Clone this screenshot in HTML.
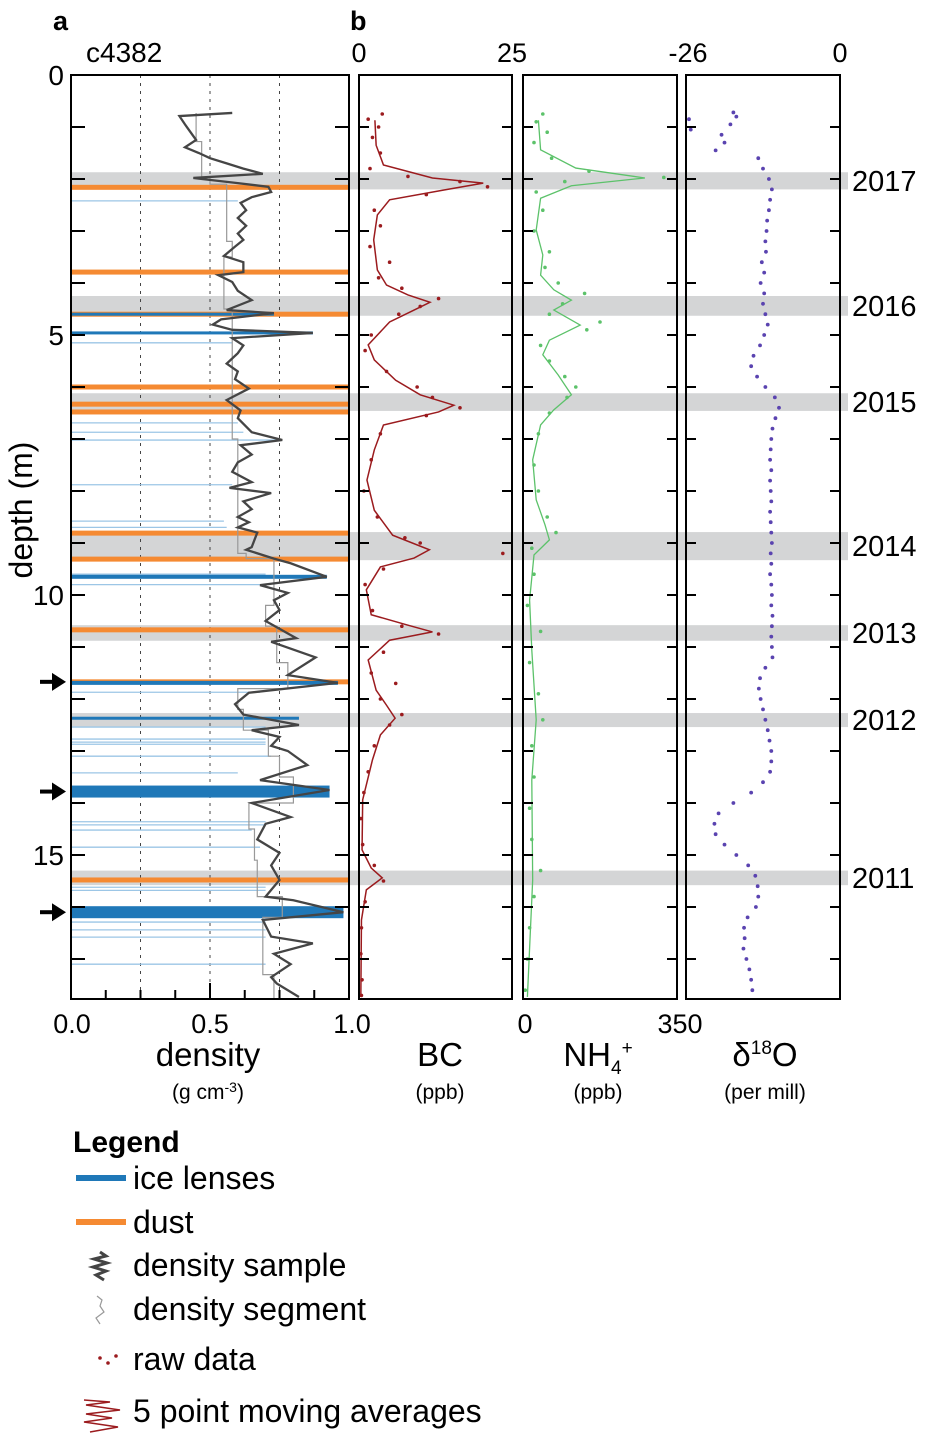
<!DOCTYPE html>
<html><head><meta charset="utf-8"><style>
html,body{margin:0;padding:0;background:#fff}
svg{display:block;font-family:"Liberation Sans",sans-serif}
</style></head><body>
<svg id="chart" width="925" height="1436" viewBox="0 0 925 1436">
<g id="bands"></g>
<g id="panelA"></g>
<g id="panelBC"></g>
<g id="panelNH"></g>
<g id="panelD"></g>
<g id="frames"></g>
<g id="texts">
<text x="53" y="30" font-size="27" font-weight="bold">a</text>
<text x="350" y="30" font-size="27" font-weight="bold">b</text>
<text x="86" y="62" font-size="28">c4382</text>
<text x="359" y="62" font-size="27" text-anchor="middle">0</text>
<text x="512" y="62" font-size="27" text-anchor="middle">25</text>
<text x="688" y="62" font-size="27" text-anchor="middle">-26</text>
<text x="840" y="62" font-size="27" text-anchor="middle">0</text>
<text x="72" y="1033" font-size="27" text-anchor="middle">0.0</text>
<text x="210" y="1033" font-size="27" text-anchor="middle">0.5</text>
<text x="352" y="1033" font-size="27" text-anchor="middle">1.0</text>
<text x="525" y="1033" font-size="27" text-anchor="middle">0</text>
<text x="680" y="1033" font-size="27" text-anchor="middle">350</text>
<text x="208" y="1066" font-size="33" text-anchor="middle">density</text>
<text x="208" y="1099" font-size="21" text-anchor="middle">(g cm<tspan dy="-7" font-size="14">-3</tspan><tspan dy="7">)</tspan></text>
<text x="440" y="1066" font-size="33" text-anchor="middle">BC</text>
<text x="440" y="1099" font-size="21" text-anchor="middle">(ppb)</text>
<text x="598" y="1066" font-size="33" text-anchor="middle">NH<tspan font-size="19" dy="8">4</tspan><tspan font-size="19" dy="-20">+</tspan></text>
<text x="598" y="1099" font-size="21" text-anchor="middle">(ppb)</text>
<text x="765" y="1066" font-size="33" text-anchor="middle">δ<tspan font-size="19" dy="-12">18</tspan><tspan dy="12">O</tspan></text>
<text x="765" y="1099" font-size="21" text-anchor="middle">(per mill)</text>
<text transform="translate(32,510) rotate(-90)" font-size="32" text-anchor="middle">depth (m)</text>
</g>
<g id="legend">
<text x="73" y="1152" font-size="30" font-weight="bold">Legend</text>
<rect x="76" y="1175" width="50" height="6" fill="#1f78b8"/>
<text x="133" y="1189" font-size="32">ice lenses</text>
<rect x="76" y="1219" width="50" height="6" fill="#f58a32"/>
<text x="133" y="1233" font-size="32">dust</text>
<polyline points="100,1252 106,1256 94,1259 107,1263 93,1267 106,1271 96,1275 104,1280" fill="none" stroke="#444" stroke-width="3"/>
<text x="133" y="1276" font-size="32">density sample</text>
<polyline points="97,1296 102,1300 100,1306 104,1312 96,1318 100,1324" fill="none" stroke="#999" stroke-width="1.2"/>
<text x="133" y="1320" font-size="32">density segment</text>
<circle cx="100" cy="1358" r="1.8" fill="#9b1b1e"/><circle cx="108" cy="1363" r="1.8" fill="#9b1b1e"/><circle cx="116" cy="1356" r="1.8" fill="#9b1b1e"/>
<text x="133" y="1370" font-size="32">raw data</text>
<polyline points="84,1400 110,1402 86,1405 120,1410 86,1414 112,1418 84,1422 118,1427 90,1432" fill="none" stroke="#9b1b1e" stroke-width="1.5"/>
<text x="133" y="1422" font-size="32">5 point moving averages</text>
</g>
</svg>
<script>
// ---- data ----
const yearLabels = ["2017","2016","2015","2014","2013","2012","2011"];
const bandTop = [1.87, 4.25, 6.12, 8.79, 10.58, 12.27, 15.3];
const bandBot = [2.2, 4.63, 6.46, 9.33, 10.88, 12.54, 15.58];
const densDepth = [0.73,0.79,0.95,1.1,1.25,1.39,1.5,1.6,1.7,1.8,1.9,1.98,2.08,2.15,2.25,2.35,2.46,2.6,2.75,2.9,3.05,3.17,3.3,3.48,3.6,3.79,3.85,3.98,4.15,4.33,4.52,4.58,4.7,4.8,4.9,4.96,5.06,5.2,5.35,5.55,5.7,5.85,6.03,6.25,6.45,6.6,6.87,7.02,7.12,7.3,7.45,7.63,7.83,7.94,8.04,8.2,8.35,8.5,8.6,8.7,8.8,9.08,9.13,9.3,9.39,9.65,9.81,9.96,10.1,10.29,10.5,10.83,10.9,11.2,11.54,11.69,11.88,12.1,12.3,12.5,12.6,12.73,12.9,13.0,13.27,13.56,13.75,14.0,14.27,14.4,14.7,14.96,15.2,15.48,15.8,15.87,16.1,16.25,16.57,16.7,16.9,17.1,17.35,17.47,17.73];
const densVal = [0.58,0.39,0.41,0.43,0.45,0.41,0.46,0.5,0.56,0.62,0.69,0.44,0.6,0.71,0.72,0.65,0.61,0.63,0.6,0.63,0.6,0.62,0.59,0.55,0.62,0.62,0.53,0.58,0.6,0.65,0.56,0.73,0.54,0.51,0.58,0.87,0.58,0.62,0.6,0.56,0.6,0.59,0.64,0.56,0.61,0.6,0.65,0.76,0.61,0.65,0.6,0.58,0.65,0.57,0.72,0.62,0.65,0.6,0.64,0.6,0.67,0.65,0.63,0.73,0.79,0.92,0.68,0.78,0.73,0.75,0.7,0.81,0.72,0.88,0.78,0.96,0.64,0.59,0.62,0.82,0.65,0.75,0.72,0.78,0.85,0.68,0.93,0.65,0.79,0.7,0.67,0.75,0.72,0.75,0.7,0.8,0.98,0.69,0.72,0.87,0.73,0.79,0.72,0.74,0.82];
const segTop = [0.73,1.28,1.96,2.1,3.2,3.5,4.5,7.0,9.2,9.3,10.2,10.6,11.3,11.8,12.2,12.6,13.1,13.5,14.0,14.5,15.1,15.8,16.2,17.3];
const segDens = [0.45,0.47,0.5,0.56,0.58,0.55,0.58,0.6,0.63,0.73,0.7,0.74,0.78,0.6,0.62,0.71,0.75,0.8,0.64,0.66,0.67,0.76,0.69,0.73];
const dustDepth = [2.16,3.79,4.6,6.0,6.33,6.48,8.81,9.31,10.67,11.67,15.48];
const iceDepth = [4.6,4.96,9.65,11.69,12.37,13.78,16.1];
const iceThick = [3,3,4,4,3,12,12];
const iceExt = [0.73,0.87,0.92,0.96,0.82,0.93,0.98];
const thinDepth = [2.42,5.15,6.02,6.69,6.87,7.02,7.88,8.58,8.7,9.6,9.8,11.87,12.54,12.77,12.83,12.87,13.1,13.42,14.36,14.42,14.52,14.85,15.62,15.68,16.29,16.44,16.58,17.1];
const thinExt = [0.6,0.58,0.65,0.6,0.62,0.76,0.58,0.55,0.56,0.7,0.7,0.68,0.7,0.7,0.7,0.7,0.72,0.6,0.7,0.7,0.65,0.68,0.7,0.7,0.7,0.7,0.7,0.7];
const bcDepth = [0.87,1.35,1.73,1.98,2.08,2.21,2.4,2.69,3.17,3.75,4.04,4.23,4.37,4.52,4.75,5.19,5.48,5.87,6.15,6.35,6.48,6.73,7.21,7.79,8.37,8.85,9.13,9.29,9.46,9.9,10.38,10.58,10.71,10.87,11.25,11.83,12.12,12.37,12.69,13.17,13.94,14.9,15.25,15.44,15.67,16.25,17.73];
const bcVal = [2.6,2.8,4,12,20.3,14,5,3,2.4,3,4.5,8,11.6,9,5,1.5,2.5,6,10,15.5,13,4,2.5,1.3,2.5,5.5,11.5,9,3.5,1.2,2,8,12,5,1.5,2.8,4.5,5.9,3.5,2.2,0.6,0.5,2,3.8,1.2,0.4,0.3];
const bcRawDepth = [0.75,0.85,1.0,1.2,1.5,1.8,1.95,2.05,2.15,2.3,2.6,2.9,3.3,3.6,3.9,4.1,4.3,4.45,4.6,5.0,5.3,5.7,6.0,6.2,6.4,6.55,6.9,7.4,8.0,8.5,8.9,9.0,9.2,9.5,9.8,10.3,10.6,10.75,11.1,11.5,11.7,12.0,12.3,12.5,12.9,13.4,13.8,14.3,14.8,15.2,15.5,15.9,16.4,16.9,17.4,17.7];
const bcRawVal = [3.8,1.5,3.2,2.2,3.5,1.8,8,16.5,21,11,2.5,3.5,1.8,5,3.2,7,13,10,6.5,2,1,4.5,9.5,12,16.5,11,3.5,2,0.8,3,7.5,10,23.5,4,1,2.2,7,13,4,2,6,3.5,7,5,2.5,1.5,0.8,0.3,0.6,2.5,4,1,0.4,0.3,0.5,0.4];
const nhDepth = [0.87,1.44,1.79,1.98,2.13,2.37,2.98,3.46,3.85,4.13,4.33,4.52,4.81,5.1,5.38,5.77,6.15,6.44,6.73,7.4,8.17,8.65,8.94,9.23,10.1,11.06,12.4,13.56,15.48,17.73];
const nhVal = [35,40,120,277,110,40,30,45,40,70,110,70,130,60,45,80,110,70,40,22,30,50,60,25,15,20,30,20,22,10];
const nhRawDepth = [0.75,0.9,1.1,1.3,1.6,1.85,1.97,2.05,2.25,2.6,3.0,3.4,3.7,4.0,4.2,4.4,4.6,4.75,4.9,5.2,5.5,5.8,6.0,6.2,6.5,6.9,7.5,8.0,8.5,8.8,9.1,9.6,10.2,10.7,11.3,11.9,12.4,12.9,13.5,14.1,14.7,15.3,15.8,16.4,17.0,17.6];
const nhRawVal = [45,30,55,25,65,150,320,95,30,45,25,60,50,80,140,90,60,175,145,40,60,95,120,100,60,35,25,35,55,75,20,25,10,40,15,35,45,20,25,15,20,40,25,15,10,5];
const dDepth = [0.72,0.8,0.85,0.95,1.05,1.15,1.3,1.45,1.6,1.8,2.0,2.2,2.4,2.6,2.8,3.0,3.2,3.4,3.6,3.8,4.0,4.2,4.4,4.6,4.8,5.0,5.2,5.4,5.6,5.8,6.0,6.2,6.4,6.6,6.8,7.0,7.2,7.4,7.6,7.8,8.0,8.2,8.4,8.6,8.8,9.0,9.2,9.4,9.6,9.8,10.0,10.2,10.4,10.6,10.8,11.0,11.2,11.4,11.6,11.8,12.0,12.2,12.4,12.6,12.8,13.0,13.2,13.4,13.6,13.8,14.0,14.2,14.4,14.6,14.8,15.0,15.2,15.4,15.6,15.8,16.0,16.2,16.4,16.6,16.8,17.0,17.2,17.4,17.6];
const dVal = [-18,-17.5,-25.5,-18.5,-25.2,-20,-19.5,-21,-13.8,-13,-12,-11.5,-11.8,-12,-12.3,-12.4,-12.6,-12.5,-13.2,-12.8,-13.4,-12.8,-13,-12.6,-12.2,-12.8,-13.5,-14.6,-15,-14,-12.6,-11,-10.3,-10.9,-11.4,-11.6,-11.7,-11.8,-11.6,-11.8,-11.7,-11.6,-11.8,-11.7,-11.6,-11.5,-11.7,-11.6,-11.8,-11.6,-11.5,-11.6,-11.4,-11.5,-11.6,-11.5,-11.4,-12.6,-13.5,-13.7,-13.4,-13,-12.6,-12.2,-11.9,-11.6,-11.6,-11.8,-13,-15,-18,-20.5,-21.2,-21,-19.5,-17.5,-15.5,-14.3,-13.9,-13.8,-14.2,-15.6,-16.2,-16.1,-16.3,-15.8,-15.3,-15,-14.8];

// ---- scales ----
const NS = "http://www.w3.org/2000/svg";
const Y0 = 75, PPM = 52, YB = 999;
const yS = d => Y0 + PPM * d;
const xDens = v => 71 + v * 278;
const xBC = v => 359 + v / 25 * 153;
const xNH = v => 523 + v / 350 * 154;
const xD = v => 686 + (v + 26) / 26 * 154;
function mk(tag, attrs, parent) {
  const e = document.createElementNS(NS, tag);
  for (const k in attrs) e.setAttribute(k, attrs[k]);
  parent.appendChild(e);
  return e;
}
const $ = id => document.getElementById(id);

bandTop.forEach((t, i) => {
  const r = mk("rect", {x: 71, y: yS(t), width: 777, height: yS(bandBot[i]) - yS(t), fill: "#d4d5d6"}, $("bands"));
  
  
  const tx = mk("text", {x: 852, y: (yS(t) + yS(bandBot[i])) / 2 + 10, "font-size": 29}, $("texts"));
  tx.textContent = yearLabels[i];
  
  
});

const A = $("panelA");
[0.25, 0.5, 0.75].forEach(v => {
  const l = mk("line", {x1: xDens(v), x2: xDens(v), y1: Y0, y2: YB, stroke: "#444", "stroke-width": 1, "stroke-dasharray": "3,5"}, A);
  
  
});
thinDepth.forEach((d, i) => {
  const l = mk("line", {x1: 71, x2: xDens(thinExt[i]), y1: yS(d), y2: yS(d), stroke: "#9cc6e6", "stroke-width": 1.3}, A);
  
  
});
dustDepth.forEach(d => {
  const r = mk("rect", {x: 71, y: yS(d) - 2.5, width: 278, height: 5, fill: "#f58a32"}, A);
  
  
});
iceDepth.forEach((d, i) => {
  const r = mk("rect", {x: 71, y: yS(d) - iceThick[i] / 2, width: xDens(iceExt[i]) - 71, height: iceThick[i], fill: "#1f78b8"}, A);
  
  
});
let segPts = [];
segTop.forEach((t, i) => {
  const b = i + 1 < segTop.length ? segTop[i + 1] : 17.77;
  segPts.push(xDens(segDens[i]) + "," + yS(t), xDens(segDens[i]) + "," + yS(b));
});
const seg = mk("polyline", {points: segPts.join(" "), fill: "none", stroke: "#999", "stroke-width": 1.2}, A);


const ds = mk("polyline", {points: densDepth.map((d, i) => xDens(densVal[i]) + "," + yS(d)).join(" "), fill: "none", stroke: "#454545", "stroke-width": 2.3}, A);



const B = $("panelBC");
const bcl = mk("polyline", {points: bcDepth.map((d, i) => xBC(bcVal[i]) + "," + yS(d)).join(" "), fill: "none", stroke: "#9b1b1e", "stroke-width": 1.5}, B);


bcRawDepth.forEach((d, i) => {
  const c = mk("circle", {cx: xBC(bcRawVal[i]), cy: yS(d), r: 1.8, fill: "#9b1b1e"}, B);
  
  
});
const N = $("panelNH");
const nhl = mk("polyline", {points: nhDepth.map((d, i) => xNH(nhVal[i]) + "," + yS(d)).join(" "), fill: "none", stroke: "#5cc26a", "stroke-width": 1.3}, N);


nhRawDepth.forEach((d, i) => {
  const c = mk("circle", {cx: xNH(nhRawVal[i]), cy: yS(d), r: 1.8, fill: "#5cc26a"}, N);
  
  
});
const D = $("panelD");
dDepth.forEach((d, i) => {
  const c = mk("circle", {cx: xD(dVal[i]), cy: yS(d), r: 1.9, fill: "#5a43b0"}, D);
  
  
});

const F = $("frames");
[[71, 349], [359, 512], [523, 677], [686, 840]].forEach(([x1, x2], p) => {
  const r = mk("rect", {x: x1, y: Y0, width: x2 - x1, height: YB - Y0, fill: "none", stroke: "#000", "stroke-width": 2}, F);
  
  
  for (let d = 1; d <= 17; d++) {
    const len = p === 0 ? 14 : 10;
    mk("line", {x1: x1, x2: x1 + len, y1: yS(d), y2: yS(d), stroke: "#000", "stroke-width": 2}, F);
    mk("line", {x1: x2 - len, x2: x2, y1: yS(d), y2: yS(d), stroke: "#000", "stroke-width": 2}, F);
  }
});
for (let k = 1; k < 8; k++) {
  const x = xDens(k * 0.125);
  mk("line", {x1: x, x2: x, y1: YB, y2: YB - (k === 4 ? 16 : 9), stroke: "#000", "stroke-width": 2}, F);
}
[0, 5, 10, 15].forEach(d => {
  const t = mk("text", {x: 64, y: yS(d) + 10, "font-size": 28, "text-anchor": "end"}, $("texts"));
  t.textContent = d;
  
  
});
[11.67, 13.78, 16.1].forEach(d => {
  const g = mk("g", {}, $("texts"));
  
  
  mk("line", {x1: 40, x2: 56, y1: yS(d), y2: yS(d), stroke: "#000", "stroke-width": 4}, g);
  mk("polygon", {points: `52,${yS(d) - 9} 66,${yS(d)} 52,${yS(d) + 9}`, fill: "#000"}, g);
});
</script>
</body></html>
